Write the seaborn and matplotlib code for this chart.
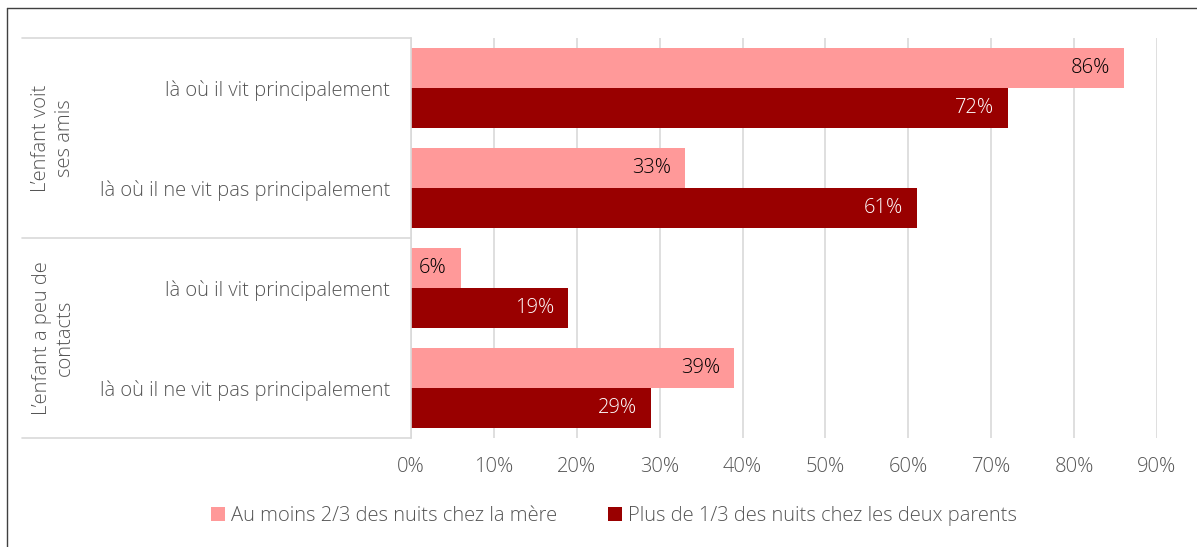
import matplotlib
matplotlib.use("Agg")
import matplotlib.pyplot as plt
import seaborn as sns
import pandas as pd
from matplotlib.patches import Patch
from matplotlib.lines import Line2D

# Data
groups = ["L’enfant voit\nses amis", "L’enfant a peu de\ncontacts"]
places = ["là où il vit principalement", "là où il ne vit pas principalement"]
series = ["Au moins 2/3 des nuits chez la mère",
          "Plus de 1/3 des nuits chez les deux parents"]
mother = [86, 33, 6, 39]
both_parents = [72, 61, 19, 29]
x_ticks = [0, 10, 20, 30, 40, 50, 60, 70, 80, 90]

colors = ["#FF9999", "#990000"]
value_colors = ["#000000", "#FFFFFF"]
text_gray = "#555555"
grid_gray = "#D9D9D9"
FS = 14.5

rows = [f"{g}|{p}" for g in groups for p in places]
df = pd.DataFrame({
    "row": rows * 2,
    "series": [series[0]] * len(rows) + [series[1]] * len(rows),
    "value": mother + both_parents,
})

sns.set_theme(style="white")
plt.rcParams["font.family"] = ["Open Sans", "DejaVu Sans"]
plt.rcParams["font.weight"] = "light"

W, H = 1197, 547
fig = plt.figure(figsize=(W / 100, H / 100), dpi=100)
ax = fig.add_axes([411 / W, 109 / H, 746 / W, 400 / H])

sns.barplot(data=df, y="row", x="value", hue="series", order=rows,
            hue_order=series, palette=colors, saturation=1, width=0.8,
            orient="h", linewidth=0, legend=False, ax=ax)

# Value labels inside the bar ends
for container, vals, col in zip(ax.containers, [mother, both_parents], value_colors):
    for patch, v in zip(container.patches, vals):
        yc = patch.get_y() + patch.get_height() / 2
        ax.annotate(f"{v}%", xy=(v, yc), xytext=(-10, 0), textcoords="offset points",
                    ha="right", va="center", color=col, fontsize=FS)

# Axes styling
ax.set_xlim(0, 90)
ax.set_xticks(x_ticks)
ax.set_xticklabels([f"{t}%" for t in x_ticks])
ax.set_yticks(range(len(rows)))
ax.set_yticklabels(places * len(groups))
ax.set_xlabel("")
ax.set_ylabel("")
ax.tick_params(axis="x", length=0, pad=14, labelsize=FS, labelcolor=text_gray)
ax.tick_params(axis="y", length=0, pad=15, labelsize=FS, labelcolor=text_gray)
ax.xaxis.grid(True, color=grid_gray, linewidth=1.2)
ax.set_axisbelow(True)
for s in ["top", "right", "bottom"]:
    ax.spines[s].set_visible(False)
ax.spines["left"].set_color(grid_gray)
ax.spines["left"].set_linewidth(1.2)

# Group separators and group labels
x_left = (22 - 411) / 746
for yf in [1.0, 0.5, 0.0]:
    ax.add_line(Line2D([x_left, 0], [yf, yf], transform=ax.transAxes,
                       color=grid_gray, linewidth=1.2, clip_on=False))
for i, g in enumerate(groups):
    yc = 1 - (i + 0.5) / len(groups)
    ax.text((53 - 411) / 746, yc, g, transform=ax.transAxes, rotation=90,
            ha="center", va="center", multialignment="center",
            fontsize=FS, color=text_gray, linespacing=1.2)

# Legend
handles = [Patch(facecolor=c, edgecolor="none") for c in colors]
fig.legend(handles, series, loc="center", bbox_to_anchor=(0.513, 0.057), ncol=2,
           frameon=False, fontsize=FS, handlelength=0.7, handleheight=0.7,
           handletextpad=0.3, columnspacing=2.5, labelcolor=text_gray)

# Outer frame (left and top edges)
frame_col = "#404040"
fig.add_artist(Line2D([7 / W, 7 / W], [0, 1 - 8 / H], transform=fig.transFigure,
                      color=frame_col, linewidth=1))
fig.add_artist(Line2D([7 / W, 1], [1 - 8 / H, 1 - 8 / H], transform=fig.transFigure,
                      color=frame_col, linewidth=1))

fig.savefig("out.png", dpi=100, facecolor="white")
